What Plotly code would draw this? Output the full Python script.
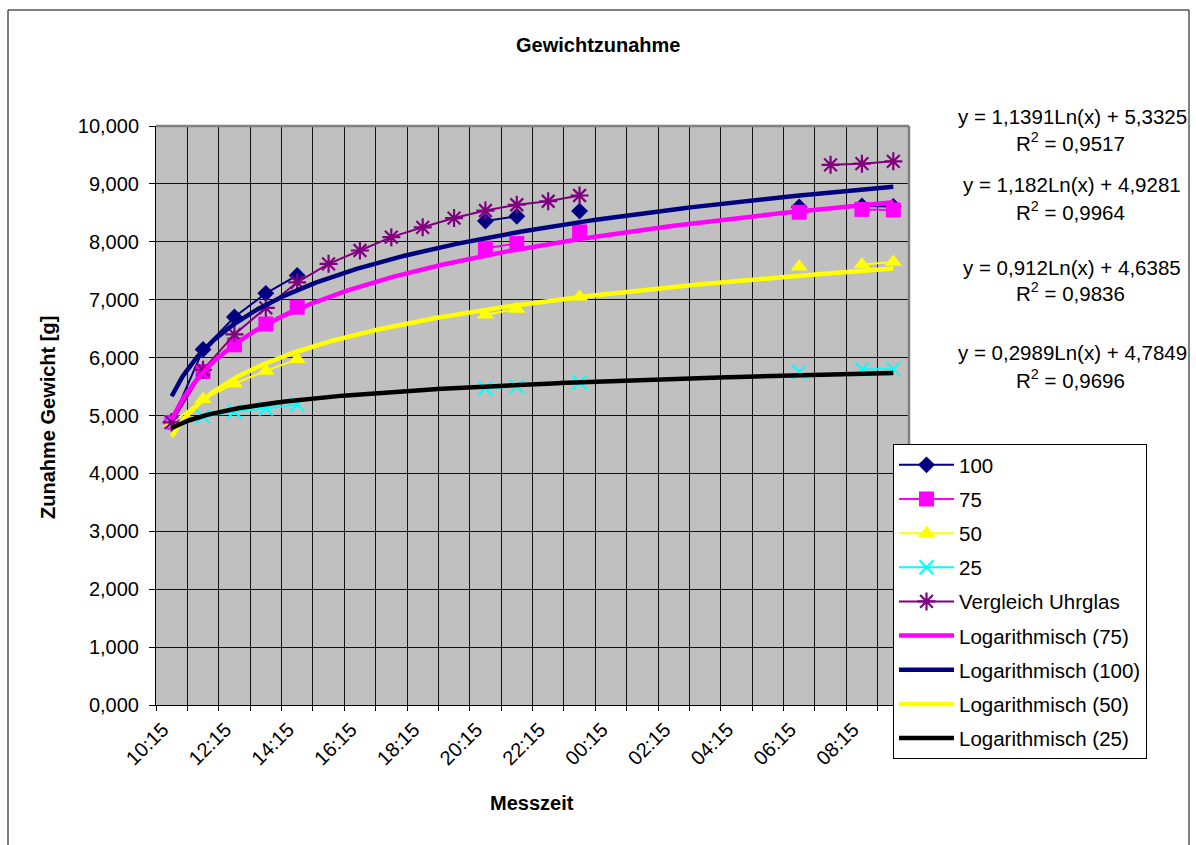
import numpy as np
import plotly.graph_objects as go

# Measurement times (one category per hour)
zeiten = ["10:15", "11:15", "12:15", "13:15", "14:15", "15:15", "16:15", "17:15",
          "18:15", "19:15", "20:15", "21:15", "22:15", "23:15", "00:15", "01:15",
          "02:15", "03:15", "04:15", "05:15", "06:15", "07:15", "08:15", "09:15"]

N = None
s100 = [4.90, 6.14, 6.70, 7.11, 7.42, N, N, N, N, N, 8.36, 8.44, N, 8.53,
        N, N, N, N, N, N, 8.60, N, 8.62, 8.61]
s75 = [4.88, 5.76, 6.22, 6.58, 6.87, N, N, N, N, N, 7.89, 7.97, N, 8.17,
       N, N, N, N, N, N, 8.51, N, 8.56, 8.55]
s50 = [4.87, 5.28, 5.55, 5.77, 5.97, N, N, N, N, N, 6.74, 6.84, N, 7.05,
       N, N, N, N, N, N, 7.57, N, 7.61, 7.65]
s25 = [4.86, 4.98, 5.07, 5.12, 5.19, N, N, N, N, N, 5.47, 5.50, N, 5.57,
       N, N, N, N, N, N, 5.75, N, 5.80, 5.80]
uhrglas = [4.88, 5.79, 6.40, 6.86, 7.30, 7.62, 7.85, 8.08, 8.25, 8.41, 8.54, 8.64,
           8.70, 8.80, N, N, N, N, N, N, N, 9.33, 9.35, 9.39]

# Logarithmic trendlines y = a*ln(x) + b, with R^2
trend_100 = (1.1391, 5.3325, "0,9517")
trend_75 = (1.182, 4.9281, "0,9964")
trend_50 = (0.912, 4.6385, "0,9836")
trend_25 = (0.2989, 4.7849, "0,9696")

y_ticks = [0, 1, 2, 3, 4, 5, 6, 7, 8, 9, 10]
y_ticktext = ["0,000", "1,000", "2,000", "3,000", "4,000", "5,000",
              "6,000", "7,000", "8,000", "9,000", "10,000"]

FONT = "Arial, Liberation Sans, sans-serif"
W, H = 1196, 845
PL, PR, PT, PB = 156, 909, 126, 705  # plot area in pixels


def px_x(p):
    return (p - PL) / (PR - PL)


def px_y(p):
    return (PB - p) / (PB - PT)


x = list(range(1, len(zeiten) + 1))
xs = np.linspace(1, len(zeiten), 300)

fig = go.Figure()

data_series = [
    ("100", s100, "#000080", dict(symbol="diamond", size=13)),
    ("75", s75, "#FF00FF", dict(symbol="square", size=15)),
    ("50", s50, "#FFFF00", dict(symbol="triangle-up", size=15)),
    ("25", s25, "#00FFFF", dict(symbol="x-thin-open", size=14,
                                 line=dict(width=2, color="#00FFFF"))),
    ("Vergleich Uhrglas", uhrglas, "#800080",
     dict(symbol="asterisk-open", size=15, line=dict(width=2.2, color="#800080"))),
]
for i, (name, vals, col, mk) in enumerate(data_series):
    mk = dict(mk)
    mk.setdefault("color", col)
    fig.add_trace(go.Scatter(
        x=x, y=vals, name=name, mode="lines+markers",
        line=dict(color=col, width=2), marker=mk,
        legendgroup=f"g{i}", connectgaps=False,
    ))

trend_series = [
    ("Logarithmisch (75)", trend_75, "#FF00FF"),
    ("Logarithmisch (100)", trend_100, "#000080"),
    ("Logarithmisch (50)", trend_50, "#FFFF00"),
    ("Logarithmisch (25)", trend_25, "#000000"),
]
for j, (name, (a, b, _r2), col) in enumerate(trend_series):
    fig.add_trace(go.Scatter(
        x=xs, y=a * np.log(xs) + b, name=name, mode="lines",
        line=dict(color=col, width=4.5), legendgroup=f"t{j}",
    ))


def fmt(v):
    return f"{v}".replace(".", ",")


# Trendline equations at the right
eq_rows = [
    (trend_100, 117, 142),
    (trend_75, 185, 211),
    (trend_50, 267, 292),
    (trend_25, 352, 379),
]
annotations = []
for (a, b, r2), y1, y2 in eq_rows:
    annotations.append(dict(
        x=px_x(1072), y=px_y(y1), xref="paper", yref="paper",
        text=f"y = {fmt(a)}Ln(x) + {fmt(b)}", showarrow=False,
        font=dict(size=20.5, color="black", family=FONT),
        xanchor="center", yanchor="middle"))
    annotations.append(dict(
        x=px_x(1070), y=px_y(y2), xref="paper", yref="paper",
        text=f"R<sup>2</sup> = {r2}", showarrow=False,
        font=dict(size=20.5, color="black", family=FONT),
        xanchor="center", yanchor="middle"))

annotations += [
    dict(x=px_x(598), y=px_y(45), xref="paper", yref="paper",
         text="<b>Gewichtzunahme</b>", showarrow=False,
         font=dict(size=20, color="black", family=FONT),
         xanchor="center", yanchor="middle"),
    dict(x=px_x(532), y=px_y(803), xref="paper", yref="paper",
         text="<b>Messzeit</b>", showarrow=False,
         font=dict(size=20, color="black", family=FONT),
         xanchor="center", yanchor="middle"),
    dict(x=px_x(48), y=px_y(417), xref="paper", yref="paper",
         text="<b>Zunahme Gewicht [g]</b>", showarrow=False, textangle=-90,
         font=dict(size=20, color="black", family=FONT),
         xanchor="center", yanchor="middle"),
]

shapes = [
    # outer chart frame
    dict(type="rect", xref="paper", yref="paper",
         x0=px_x(8), x1=px_x(1189), y0=px_y(860), y1=px_y(10),
         line=dict(color="black", width=1), fillcolor="rgba(0,0,0,0)",
         layer="below"),
    # top and right plot frame
    dict(type="line", xref="paper", yref="paper", x0=0, x1=1, y0=1, y1=1,
         line=dict(color="#808080", width=2.5)),
    dict(type="line", xref="paper", yref="paper", x0=1, x1=1, y0=0, y1=1,
         line=dict(color="#808080", width=2.5)),
]

fig.update_layout(
    width=W, height=H,
    margin=dict(l=PL, r=W - PR, t=PT, b=H - PB, autoexpand=False),
    paper_bgcolor="white", plot_bgcolor="#C0C0C0",
    font=dict(family=FONT, size=20, color="black"),
    showlegend=True,
    legend=dict(
        x=px_x(893), y=px_y(444), xanchor="left", yanchor="top",
        bgcolor="white", bordercolor="black", borderwidth=1,
        font=dict(size=20.5, family=FONT, color="black"),
        traceorder="grouped", tracegroupgap=4.5, itemwidth=55,
    ),
    annotations=annotations,
    shapes=shapes,
    xaxis=dict(
        range=[0.5, len(zeiten) + 0.5],
        tickmode="array", tickvals=x[0::2], ticktext=zeiten[0::2],
        tickangle=-45, ticks="", showgrid=False, zeroline=False,
        showline=True, linecolor="black", linewidth=1,
        tickfont=dict(size=20, family=FONT, color="black"),
        ticklabelshift=-9, ticklabelstandoff=4,
        minor=dict(tick0=0.5, dtick=1, ticks="outside", ticklen=5,
                   tickcolor="black", showgrid=True, gridcolor="#111111",
                   gridwidth=1),
        fixedrange=True,
    ),
    yaxis=dict(
        range=[0, 10], tickmode="array", tickvals=y_ticks, ticktext=y_ticktext,
        ticks="outside", ticklen=6, tickcolor="black",
        showgrid=True, gridcolor="#111111", gridwidth=1, zeroline=False,
        showline=True, linecolor="black", linewidth=1,
        tickfont=dict(size=20, family=FONT, color="black"),
        ticklabelstandoff=6,
        fixedrange=True,
    ),
)

fig.write_html("out.html")
